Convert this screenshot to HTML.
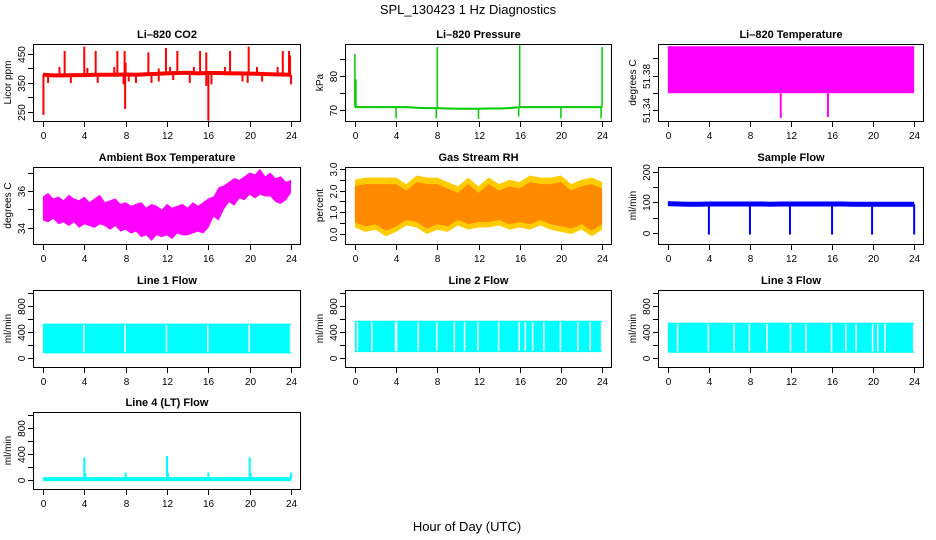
<!DOCTYPE html>
<html><head><meta charset="utf-8"><style>
html,body{margin:0;padding:0;background:#fff;}
svg{display:block;font-family:"Liberation Sans",sans-serif;}
</style></head><body>
<svg id="c" width="936" height="540" viewBox="0 0 936 540" xmlns="http://www.w3.org/2000/svg">
<text x="468" y="14" text-anchor="middle" font-size="13">SPL_130423  1 Hz Diagnostics</text>
<text x="467" y="531" text-anchor="middle" font-size="13">Hour of Day (UTC)</text>
</svg>
<script>
// ---- data ----
const hours=[0,1,2,3,4,5,6,7,8,9,10,11,12,13,14,15,16,17,18,19,20,21,22,23,24];
const co2Base=[378,376,376,377,377,378,378,378,379,378,380,381,383,384,385,383,384,384,383,383,382,381,380,379,378];
const co2UpT=[2.1,4.0,5.1,7.2,7.9,10.2,11.9,13.0,15.2,15.8,18.1,19.9,23.2,23.8];
const co2UpV=[460,475,460,460,460,455,470,460,460,455,460,475,460,460];
const co2MidT=[1.6,4.3,6.9,8.0,11.2,12.3,14.6,17.6,20.7,22.7,23.9];
const co2MidV=[405,402,405,420,400,405,405,405,405,405,445];
const co2DnT=[0.5,2.7,5.3,7.8,8.3,9.0,10.5,11.2,12.6,14.2,16.3,19.3,19.8,21.2,24.0];
const co2DnV=[350,350,350,345,355,350,350,355,360,350,345,355,350,355,345];
const co2BigT=[0.05,7.95,16.0,15.8];
const co2BigV=[240,260,220,340];
const presBase=[70.8,70.8,70.8,70.8,70.8,70.8,70.6,70.5,70.5,70.4,70.3,70.3,70.3,70.4,70.4,70.5,70.8,70.8,70.8,70.8,70.8,70.8,70.8,70.8,70.8];
const presSpT=[0.0,8.0,16.0,24.0,0.1];
const presSpV=[86.5,88.5,89.4,88.5,79];
const presDipT=[4.0,7.9,12.0,15.9,20.0,23.9];
const presDipV=[67.5,67.5,67.3,68,67.5,67.5];
const tempHi=51.414, tempLo=51.3596;
const tempDipT=[11.0,15.6];
const tempDipV=[51.331,51.332];
const ambT=[0,0.5,1,1.5,2,2.5,3,3.5,4,4.5,5,5.5,6,6.5,7,7.5,8,8.5,9,9.5,10,10.5,11,11.5,12,12.5,13,13.5,14,14.5,15,15.5,16,16.5,17,17.5,18,18.5,19,19.5,20,20.5,21,21.5,22,22.5,23,23.5,24];
const ambLo=[34.4,34.3,34.5,34.2,34.3,34.1,34.3,34.0,34.2,34.1,34.0,34.2,34.1,33.9,34.1,33.8,33.9,33.7,33.8,33.5,33.6,33.3,33.6,33.5,33.6,33.4,33.7,33.6,33.6,33.7,33.8,33.7,34.0,34.6,34.4,35.0,35.4,35.2,35.6,35.5,35.8,35.6,35.8,35.7,35.7,35.4,35.3,35.5,35.9];
const ambHi=[35.7,35.9,35.6,35.7,35.5,35.8,35.6,35.5,35.7,35.4,35.6,35.8,35.4,35.5,35.6,35.3,35.4,35.2,35.3,35.4,35.1,35.3,35.2,35.0,35.3,35.1,35.2,35.3,35.1,35.4,35.2,35.4,35.6,35.7,36.2,36.3,36.5,36.7,36.6,36.8,37.0,36.9,37.2,36.8,37.0,36.7,36.8,36.5,36.6];
const rhT=[0,1,2,3,4,5,6,7,8,9,10,11,12,13,14,15,16,17,18,19,20,21,22,23,24];
const rhLo=[0.3,0.1,0.2,-0.1,0.1,0.4,0.3,0.0,0.2,0.1,0.4,0.2,0.3,0.3,0.4,0.2,0.3,0.2,0.4,0.2,0.1,0.0,0.2,-0.1,0.2];
const rhHi=[2.5,2.6,2.6,2.6,2.6,2.3,2.7,2.6,2.6,2.4,2.2,2.6,2.2,2.6,2.3,2.5,2.4,2.7,2.6,2.6,2.7,2.3,2.5,2.6,2.4];
const sfBase=[96,95,94,94,95,95,95,95,95,95,94,95,95,95,95,95,95,95,94,94,94,94,94,94,94];
const sfDipT=[4.0,8.0,11.9,16.0,19.9,24.0];
const sfDipV=[-5,-5,-5,-5,-5,-5];
const l1Lo=70, l1Hi=530;
const l1GapT=[3.9,7.9,11.9,15.9,19.9,23.9];
const l2Lo=90, l2Hi=575;
const l2GapT=[0.2,1.6,3.9,4.0,6.1,7.9,9.6,10.6,11.9,13.9,15.9,16.5,17.2,18.3,19.9,21.6,22.8,23.9];
const l3Lo=80, l3Hi=545;
const l3GapT=[0.9,3.9,6.4,7.9,9.6,11.9,13.4,15.9,17.3,18.3,19.9,20.4,21.1,23.9];
const l4Base=12;
const l4SpT=[4.0,8.0,12.0,16.0,20.0,24.0,4.1,12.1,20.1];
const l4SpV=[350,115,370,115,350,115,110,110,110];

// ---- drawing ----
const NS="http://www.w3.org/2000/svg";
const svg=document.getElementById('c');
const colL=[33,345,658], colR=[301,612,924];
const rowT=[44,167,290,412], PH=77;
function mk(tag,attrs,parent){const e=document.createElementNS(NS,tag);for(const k in attrs)e.setAttribute(k,attrs[k]);(parent||svg).appendChild(e);return e;}
function panel(col,row,name,title,ylab,dom,ticks,labels){
  const g=mk('g',{});
  
  
  const L=colL[col],R=colR[col],T=rowT[row],B=T+PH;
  const sx=t=>L+(t+0.96)/25.92*(R-L);
  const sy=v=>B-(v-dom[0])/(dom[1]-dom[0])*PH;
  const tt=mk('text',{x:(L+R)/2,y:T-6,'text-anchor':'middle','font-size':11,'font-weight':'bold'},g);
  tt.textContent=title;
  
  
  const yl=mk('text',{transform:`translate(${L-22},${(T+B)/2}) rotate(-90)`,'text-anchor':'middle','font-size':10},g);
  yl.textContent=ylab;
  
  
  const plot=mk('g',{},g);
  const ax=mk('g',{stroke:'#000','stroke-width':1,fill:'none'},g);
  mk('rect',{x:L+0.5,y:T+0.5,width:R-L-1,height:PH,stroke:'#000',fill:'none'},ax);
  ticks.forEach((v,i)=>{const y=Math.round(sy(v))+0.5;mk('line',{x1:L-5,x2:L,y1:y,y2:y},ax);
    if(labels[i]){const t=mk('text',{transform:`translate(${L-8},${y}) rotate(-90)`,'text-anchor':'middle','font-size':10,fill:'#000',stroke:'none'},g);t.textContent=labels[i];
    
    }});
  [0,4,8,12,16,20,24].forEach(h=>{const x=Math.round(sx(h))+0.5;mk('line',{x1:x,x2:x,y1:B+1,y2:B+6},ax);
    const t=mk('text',{x:x,y:B+18,'text-anchor':'middle','font-size':10},g);t.textContent=h;
    
    });
  return {plot,sx,sy,T,B};
}
function vline(p,t,v1,v2,col,w){mk('line',{x1:p.sx(t),x2:p.sx(t),y1:p.sy(v1),y2:p.sy(v2),stroke:col,'stroke-width':w||1.5},p.plot);}
function baseLine(p,ts,vs,col,w){mk('polyline',{points:ts.map((t,i)=>p.sx(t)+','+p.sy(vs[i])).join(' '),fill:'none',stroke:col,'stroke-width':w||3},p.plot);}
function band(p,ts,lo,hi,col){mk('polygon',{points:ts.map((t,i)=>p.sx(t)+','+p.sy(hi[i])).concat(ts.map((t,i)=>p.sx(t)+','+p.sy(lo[i])).reverse()).join(' '),fill:col},p.plot);}
function rectBand(p,lo,hi,col){mk('rect',{x:p.sx(0),y:p.sy(hi),width:p.sx(24)-p.sx(0),height:p.sy(lo)-p.sy(hi),fill:col},p.plot);}

let p=panel(0,0,'co2','Li\u2013820 CO2','Licor ppm',[219,484],[250,300,350,400,450],['250','','350','','450']);
co2UpT.forEach((t,i)=>vline(p,t,co2Base[Math.round(t)],co2UpV[i],'#f00',2));
co2MidT.forEach((t,i)=>vline(p,t,co2Base[Math.round(t)],co2MidV[i],'#f00',2));
co2DnT.forEach((t,i)=>vline(p,t,co2Base[Math.round(t)],co2DnV[i],'#f00',2));
co2BigT.forEach((t,i)=>vline(p,t,co2Base[Math.round(t)],co2BigV[i],'#f00',2));
baseLine(p,hours,co2Base,'#f00',4);

p=panel(1,0,'pressure','Li\u2013820 Pressure','kPa',[66.7,89.4],[70,75,80,85],['70','','80','']);
presSpT.forEach((t,i)=>vline(p,t,presBase[Math.round(t)],presSpV[i],'#00cc00',1.5));
presDipT.forEach((t,i)=>vline(p,t,presBase[Math.round(t)],presDipV[i],'#00cc00',1.5));
baseLine(p,hours,presBase,'#00cc00',2);

p=panel(2,0,'li820-temperature','Li\u2013820 Temperature','degrees C',[51.3274,51.4166],[51.34,51.36,51.38,51.40],['51.34','','51.38','']);
rectBand(p,tempLo,tempHi,'#ff00ff');
tempDipT.forEach((t,i)=>vline(p,t,tempLo,tempDipV[i],'#ff00ff',2));

p=panel(0,1,'ambient-temperature','Ambient Box Temperature','degrees C',[33.13,37.3],[34,35,36,37],['34','','36','']);
band(p,ambT,ambLo,ambHi,'#ff00ff');

p=panel(1,1,'gas-stream-rh','Gas Stream RH','percent',[-0.46,3.09],[0,0.5,1,1.5,2,2.5,3],['0.0','','1.0','','2.0','','3.0']);
band(p,rhT,rhLo,rhHi,'#ffcc00');
band(p,rhT,rhLo.map(v=>v+0.25),rhHi.map(v=>v-0.3),'#ff8a00');

p=panel(2,1,'sample-flow','Sample Flow','ml/min',[-36,216],[0,50,100,150,200],['0','','100','','200']);
sfDipT.forEach((t,i)=>vline(p,t,sfBase[Math.round(t)],sfDipV[i],'#0000ff',2));
baseLine(p,hours,sfBase,'#0000ff',5);

const fdom=[-140,1050],ft=[0,200,400,600,800,1000],fl=['0','','400','','800',''];
function flow(col,row,name,title,lo,hi,gaps){
  const q=panel(col,row,name,title,'ml/min',fdom,ft,fl);
  rectBand(q,lo,hi,'#00ffff');
  gaps.forEach(t=>vline(q,t+0.05,lo+20,hi-20,'#fff',1.5));
  return q;
}
flow(0,2,'line-1-flow','Line 1 Flow',l1Lo,l1Hi,l1GapT);
flow(1,2,'line-2-flow','Line 2 Flow',l2Lo,l2Hi,l2GapT);
flow(2,2,'line-3-flow','Line 3 Flow',l3Lo,l3Hi,l3GapT);
p=panel(0,3,'line-4-flow','Line 4 (LT) Flow','ml/min',fdom,ft,fl);
l4SpT.forEach((t,i)=>vline(p,t,l4Base,l4SpV[i],'#00ffff',2));
baseLine(p,[0,24],[l4Base,l4Base],'#00ffff',4);
</script>
</body></html>
